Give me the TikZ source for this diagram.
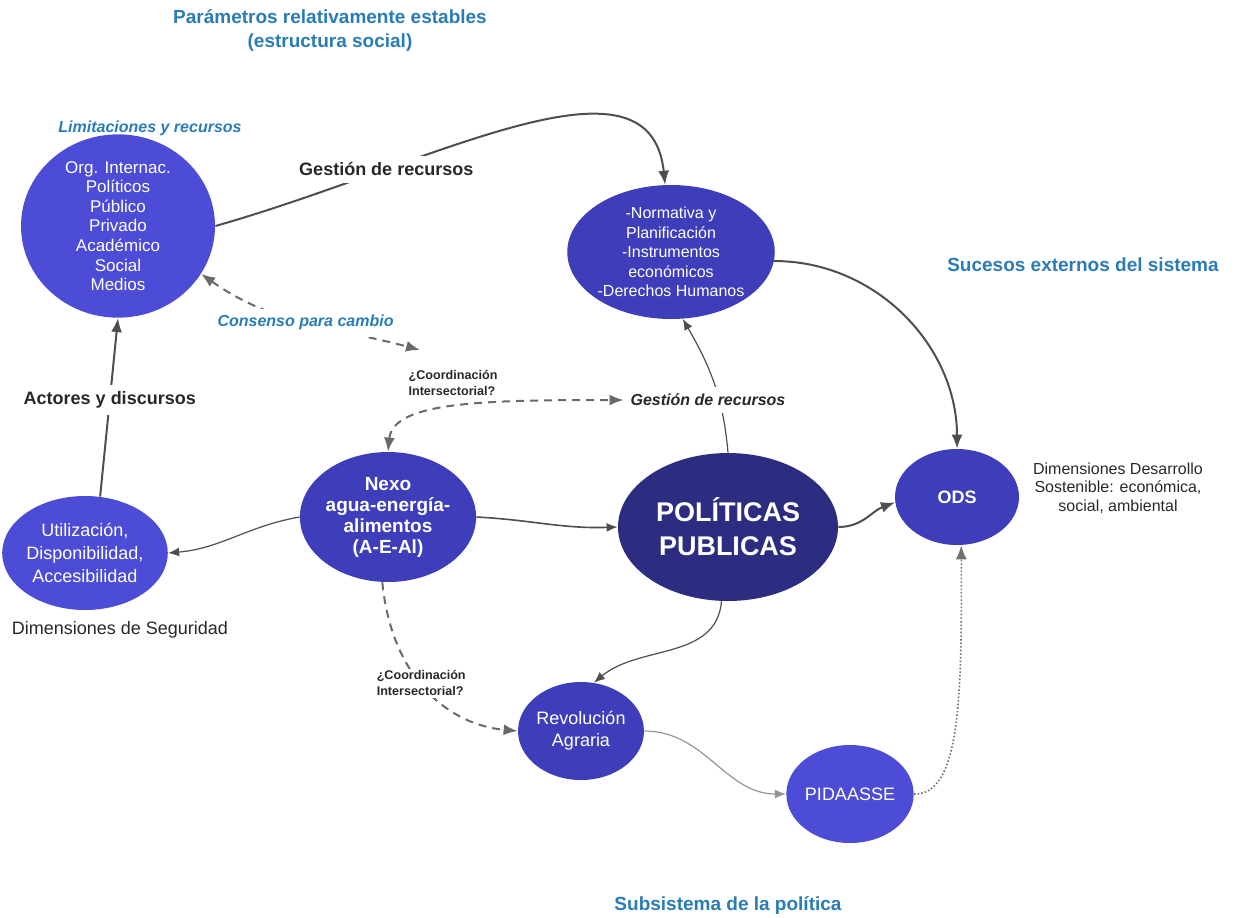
\documentclass[tikz,border=0pt]{standalone}
\usepackage{fontspec}
\setmainfont{Liberation Sans}
\usetikzlibrary{shapes.geometric,arrows.meta}

\definecolor{azulclaro}{RGB}{76,76,214}
\definecolor{azulmedio}{RGB}{62,62,186}
\definecolor{azuloscuro}{RGB}{44,44,128}
\definecolor{azultitulo}{RGB}{41,124,182}
\definecolor{linea}{RGB}{78,78,78}
\definecolor{textoosc}{RGB}{40,40,40}

\begin{document}
\begin{tikzpicture}[x=0.5pt,y=-0.5pt,
  >={Latex[length=7pt,width=5.5pt]},
  elipse/.style={ellipse,inner sep=0pt,align=center,text=white,fill=azulclaro},
  titulo/.style={text=azultitulo,align=center,font=\fontsize{9.5}{12}\selectfont\bfseries},
  nota/.style={text=azultitulo,font=\fontsize{8}{10}\selectfont\bfseries\itshape},
  rotulo/.style={text=textoosc,font=\fontsize{9}{11}\selectfont\bfseries},
  texto/.style={text=textoosc,align=center,font=\fontsize{8}{9.3}\selectfont},
  pregunta/.style={text=textoosc,align=left,inner sep=1pt,font=\fontsize{6.3}{8}\selectfont\bfseries},
  flecha/.style={->,line width=1pt,draw=linea},
  fina/.style={->,>={Latex[length=5.5pt,width=4.5pt]},line width=0.6pt,draw=linea},
  guion/.style={dash pattern=on 4pt off 3pt,line width=1pt,draw=linea!85},
  punteado/.style={->,densely dotted,line width=0.8pt,draw=linea!80}]

 \useasboundingbox (0,0) rectangle (1237,917);

    % Draw ellipses
    \node[elipse,minimum width=97pt,minimum height=80pt,font=\fontsize{8.5}{9.8}\selectfont] (actores) at (118,226)
        {Org. Internac.\\Políticos\\Público\\Privado\\Académico\\Social\\Medios};
    \node[elipse,fill=azulmedio,minimum width=101pt,minimum height=67pt,font=\fontsize{8}{9.8}\selectfont] (normativa) at (671,252)
        {-Normativa y\\Planificación\\-Instrumentos\\económicos\\-Derechos Humanos};
    \node[elipse,fill=azulmedio,minimum width=75pt,minimum height=65pt,font=\fontsize{9.5}{10.5}\selectfont\bfseries] (nexo) at (388,517)
        {Nexo\\agua-energía-\\alimentos\\(A-E-Al)};
    \node[elipse,fill=azuloscuro,minimum width=110pt,minimum height=74pt,font=\fontsize{13.5}{17}\selectfont\bfseries] (politicas) at (728,527)
        {POLÍTICAS\\PUBLICAS};
    \node[elipse,fill=azulmedio,minimum width=62pt,minimum height=48pt,font=\fontsize{9}{11}\selectfont\bfseries] (ods) at (957,497) {ODS};
    \node[elipse,minimum width=82pt,minimum height=57pt,font=\fontsize{9}{11.7}\selectfont] (utilizacion) at (85,553)
        {Utilización,\\Disponibilidad,\\Accesibilidad};
    \node[elipse,fill=azulmedio,minimum width=62pt,minimum height=49pt,font=\fontsize{9}{11}\selectfont] (revolucion) at (581,731)
        {Revolución\\Agraria};
    \node[elipse,minimum width=62pt,minimum height=49pt,font=\fontsize{9}{11}\selectfont] (pidaasse) at (850,794) {PIDAASSE};

    % Draw free texts
    \node[titulo] (parametros) at (330,30) {Parámetros relativamente estables\\(estructura social)};
    \node[titulo] (sucesos) at (1083,265) {Sucesos externos del sistema};
    \node[titulo] (subsistema) at (728,905) {Subsistema de la política};
    \node[nota] (limitaciones) at (150,128) {Limitaciones y recursos};
    \node[texto] (dimdes) at (1118,488) {Dimensiones Desarrollo\\Sostenible: económica,\\social, ambiental};
    \node[texto,font=\fontsize{9}{11}\selectfont] (dimseg) at (120,630) {Dimensiones de Seguridad};
    \node[pregunta] (coord1) at (453,383) {¿Coordinación\\Intersectorial?};
    \coordinate (cons) at (420,350);

    % Draw connectors
    \draw[flecha] (actores.east) .. controls (430,165) and (650,40) .. (normativa.95)
        node[pos=.27,rotulo,fill=white] (gesA) {Gestión de recursos};
    \draw[flecha] (normativa.-5) to[out=0,in=90] (ods.north);
    \draw[flecha] (utilizacion.75) -- (actores.south)
        node[pos=.54,rotulo,fill=white] (actdisc) {Actores y discursos};
    \draw[guion,<->] (actores.-30) to[out=-35,in=165]
        node[nota,fill=white] (consenso) {Consenso para cambio} (cons);
    \draw[fina] (politicas.north) to[out=95,in=-60] (normativa.-80);
    \node[nota,text=textoosc,fill=white] (gesB) at (708,400) {Gestión de recursos};
    \draw[guion,<->] (nexo.north) .. controls +(5,-50) and +(-140,0) .. (gesB.west);
    \draw[fina,line width=0.8pt] (nexo.east) to[out=-3,in=182] (politicas.west);
    \draw[fina] (nexo.west) to[out=190,in=5] (utilizacion.east);
    \draw[flecha] (politicas.east) to[out=0,in=200] (ods.185);
    \draw[fina] (politicas.-95) to[out=-95,in=40] (revolucion.75);
    \draw[guion,->] (nexo.-95) .. controls (392,680) and (450,725) .. (revolucion.west)
        node[pos=.45,pregunta,fill=white] (coord2) {¿Coordinación\\Intersectorial?};
    \draw[fina,draw=linea!60] (revolucion.east) to[out=0,in=180] (pidaasse.west);
    \draw[punteado] (pidaasse.east) .. controls (960,795) and (962,700) .. (ods.-85);

\end{tikzpicture}
\end{document}
